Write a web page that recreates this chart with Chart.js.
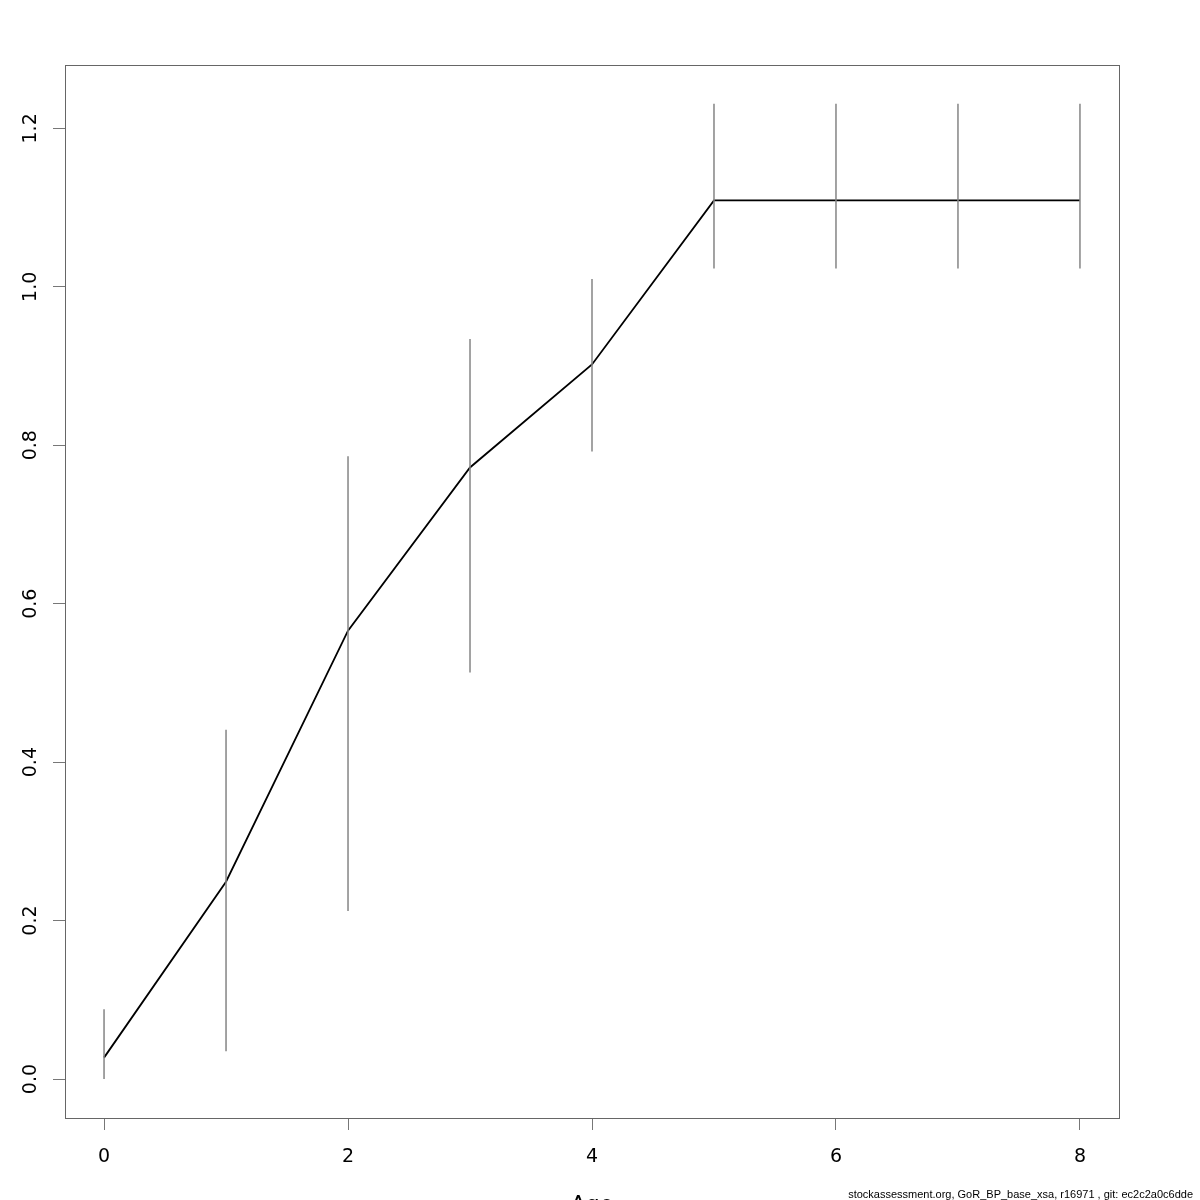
<!DOCTYPE html>
<html>
<head>
<meta charset="utf-8">
<script src="https://cdn.jsdelivr.net/npm/chart.js@4/dist/chart.umd.min.js"></script>
<style>
  html, body { margin: 0; padding: 0; background: #fff; overflow: hidden; }
  canvas { display: block; }
</style>
</head>
<body>
<canvas id="selChart" width="1200" height="1230"></canvas>
<script>
// Values
const ages = [0, 1, 2, 3, 4, 5, 6, 7, 8];
const selectivity = [0.027, 0.249, 0.566, 0.772, 0.902, 1.109, 1.109, 1.109, 1.109];
const lowerCI = [0.0, 0.035, 0.212, 0.513, 0.792, 1.023, 1.023, 1.023, 1.023];
const upperCI = [0.088, 0.441, 0.786, 0.934, 1.010, 1.231, 1.231, 1.231, 1.231];
const xTicks = [0, 2, 4, 6, 8];
const yTicks = [0, 0.2, 0.4, 0.6, 0.8, 1.0, 1.2];
const footer = "stockassessment.org, GoR_BP_base_xsa, r16971 , git: ec2c2a0c6dde";

// error bars as one dataset: bottom, top, gap for each age
const barPoints = [];
ages.forEach((a, i) => {
  barPoints.push({ x: a, y: lowerCI[i] });
  barPoints.push({ x: a, y: upperCI[i] });
  barPoints.push({ x: a, y: null });
});

// R-style box around the plot region + footer text
const boxPlugin = {
  id: "rbox",
  afterDraw(chart) {
    const { ctx, chartArea } = chart;
    ctx.save();
    ctx.strokeStyle = "#666";
    ctx.lineWidth = 1;
    ctx.strokeRect(chartArea.left + 0.5, chartArea.top + 0.5,
      chartArea.right - chartArea.left, chartArea.bottom - chartArea.top);
    ctx.fillStyle = "#000";
    ctx.font = "11px 'Liberation Sans', sans-serif";
    ctx.textAlign = "right";
    ctx.textBaseline = "alphabetic";
    ctx.fillText(footer, 1193, 1198);
    ctx.restore();
  },
};

const tickFont = { family: "'DejaVu Sans', sans-serif", size: 19 };

const ctx = document.getElementById("selChart").getContext("2d");
const selChart = new Chart(ctx, {
  type: "scatter",
  data: {
    datasets: [
      {
        label: "CI",
        data: barPoints,
        showLine: true,
        spanGaps: false,
        borderColor: "#858585",
        borderWidth: 1.5,
        pointRadius: 0,
      },
      {
        label: "Selectivity",
        data: ages.map((a, i) => ({ x: a, y: selectivity[i] })),
        showLine: true,
        borderColor: "#000",
        borderWidth: 1.8,
        pointRadius: 0,
        tension: 0,
      },
    ],
  },
  options: {
    responsive: false,
    animation: false,
    devicePixelRatio: 1,
    layout: { padding: { top: 65, right: 81, left: 0, bottom: 0 } },
    plugins: {
      legend: { display: false },
      tooltip: { enabled: false },
    },
    scales: {
      x: {
        type: "linear",
        min: -0.32,
        max: 8.32,
        afterBuildTicks: (scale) => {
          scale.ticks = xTicks.map((v) => ({ value: v }));
        },
        afterFit: (scale) => {
          scale.height = 112;
        },
        ticks: {
          color: "#000",
          font: tickFont,
          padding: 16,
          maxRotation: 0,
          callback: (v) => String(v),
        },
        grid: {
          drawOnChartArea: false,
          drawTicks: true,
          tickLength: 12,
          color: "#777",
        },
        border: { display: false },
        title: {
          display: true,
          text: "Age",
          color: "#000",
          font: { family: "'DejaVu Sans', sans-serif", size: 22 },
          padding: { top: 0, bottom: 12 },
        },
      },
      y: {
        type: "linear",
        min: -0.0492,
        max: 1.28,
        afterBuildTicks: (scale) => {
          scale.ticks = yTicks.map((v) => ({ value: v }));
        },
        afterFit: (scale) => {
          scale.width = 65;
        },
        ticks: {
          color: "#000",
          font: tickFont,
          padding: 7,
          minRotation: 90,
          maxRotation: 90,
          crossAlign: "center",
          callback: (v) => v.toFixed(1),
        },
        grid: {
          drawOnChartArea: false,
          drawTicks: true,
          tickLength: 12,
          color: "#777",
        },
        border: { display: false },
      },
    },
  },
  plugins: [boxPlugin],
});
</script>
</body>
</html>
